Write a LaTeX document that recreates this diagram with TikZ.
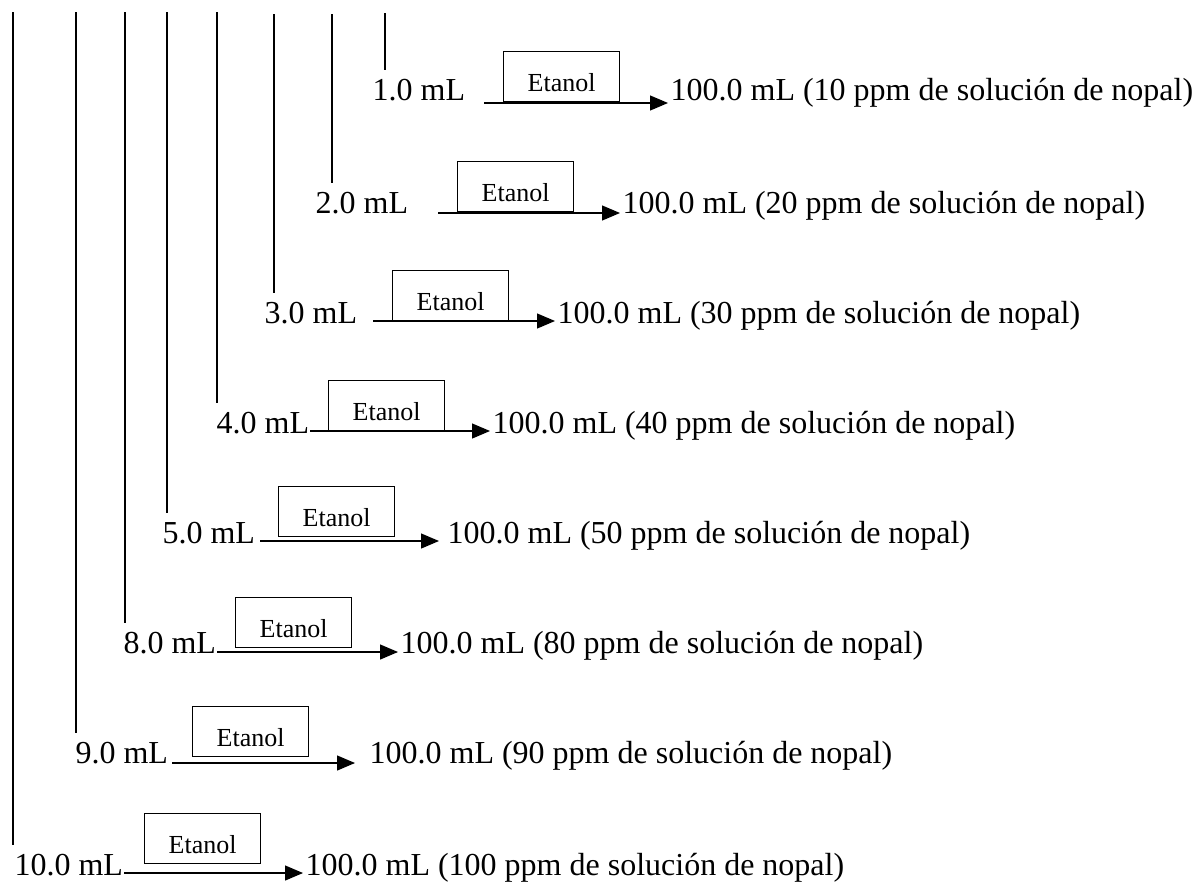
\documentclass[tikz,border=0pt]{standalone}
\usepackage{fontspec}
\setmainfont{Liberation Serif}
\usetikzlibrary{calc,arrows.meta}

\begin{document}
\begin{tikzpicture}[x=0.5pt,y=-0.5pt,line width=0.6pt,
  vol/.style={anchor=base west,inner xsep=1pt,inner ysep=4pt,font=\fontsize{16}{19}\selectfont},
  res/.style={anchor=base west,inner xsep=1pt,inner ysep=4pt,font=\fontsize{16}{19}\selectfont},
  solvent/.style={draw,anchor=south west,minimum width=58pt,minimum height=25pt,
    text height=15pt,text depth=0pt,inner sep=0pt,font=\fontsize{13}{15}\selectfont},
  flow/.style={-{Triangle[length=9pt,width=7.5pt]}}]

\useasboundingbox (0,0) rectangle (1197,884);

% Tops of the vertical lines
\coordinate (T1) at (385,13);
\coordinate (T2) at (332,14);
\coordinate (T3) at (274,14);
\coordinate (T4) at (217,12);
\coordinate (T5) at (167,12);
\coordinate (T6) at (125,12);
\coordinate (T7) at (76,12);
\coordinate (T8) at (13,12);

% Start of each arrow
\coordinate (A1) at (484,103);
\coordinate (A2) at (438,213);
\coordinate (A3) at (373,321);
\coordinate (A4) at (310,431);
\coordinate (A5) at (260,541);
\coordinate (A6) at (217,652);
\coordinate (A7) at (172,763);
\coordinate (A8) at (124,873);

% Aliquot volumes
\node[vol] (V1) at (370,100) {1.0 mL};
\node[vol] (V2) at (313,213) {2.0 mL};
\node[vol] (V3) at (262,323) {3.0 mL};
\node[vol] (V4) at (214,433) {4.0 mL};
\node[vol] (V5) at (160,543) {5.0 mL};
\node[vol] (V6) at (121,653) {8.0 mL};
\node[vol] (V7) at (73,763) {9.0 mL};
\node[vol] (V8) at (12,875) {10.0 mL};

% Solvent boxes
\node[solvent] (E1) at (503,102) {Etanol};
\node[solvent] (E2) at (457,212) {Etanol};
\node[solvent] (E3) at (392,321) {Etanol};
\node[solvent] (E4) at (328,431) {Etanol};
\node[solvent] (E5) at (278,537) {Etanol};
\node[solvent] (E6) at (235,648) {Etanol};
\node[solvent] (E7) at (192,757) {Etanol};
\node[solvent] (E8) at (144,864) {Etanol};

% Resulting solutions
\node[res] (R1) at (668,100) {100.0 mL (10 ppm de solución de nopal)};
\node[res] (R2) at (620,213) {100.0 mL (20 ppm de solución de nopal)};
\node[res] (R3) at (555,323) {100.0 mL (30 ppm de solución de nopal)};
\node[res] (R4) at (490,433) {100.0 mL (40 ppm de solución de nopal)};
\node[res] (R5) at (445,543) {100.0 mL (50 ppm de solución de nopal)};
\node[res] (R6) at (398,653) {100.0 mL (80 ppm de solución de nopal)};
\node[res] (R7) at (367,763) {100.0 mL (90 ppm de solución de nopal)};
\node[res] (R8) at (303,875) {100.0 mL (100 ppm de solución de nopal)};

% Vertical lines down to each volume
\draw (T1) -- (T1 |- V1.north);
\draw (T2) -- (T2 |- V2.north);
\draw (T3) -- (T3 |- V3.north);
\draw (T4) -- (T4 |- V4.north);
\draw (T5) -- (T5 |- V5.north);
\draw (T6) -- (T6 |- V6.north);
\draw (T7) -- (T7 |- V7.north);
\draw (T8) -- (T8 |- V8.north);

% Dilution arrows
\draw[flow] (A1) -- (A1 -| R1.west);
\draw[flow] (A2) -- (A2 -| R2.west);
\draw[flow] (A3) -- (A3 -| R3.west);
\draw[flow] (A4) -- (A4 -| R4.west);
\draw[flow,shorten >=3pt] (A5) -- (A5 -| R5.west);
\draw[flow] (A6) -- (A6 -| R6.west);
\draw[flow,shorten >=6pt] (A7) -- (A7 -| R7.west);
\draw[flow] (A8) -- (A8 -| R8.west);

\end{tikzpicture}
\end{document}
